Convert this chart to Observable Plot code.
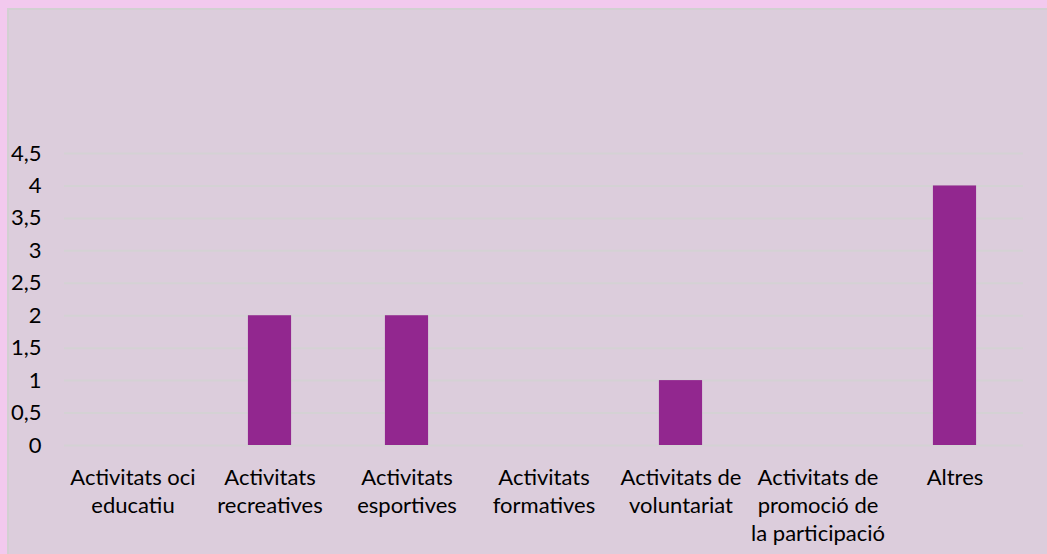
<!DOCTYPE html>
<html>
<head>
<meta charset="utf-8">
<script src="https://cdn.jsdelivr.net/npm/d3@7"></script>
<script src="https://cdn.jsdelivr.net/npm/@observablehq/plot@0.6"></script>
<style>
  html, body { margin: 0; padding: 0; }
  body { width: 1047px; height: 554px; background: #F2C9EE; position: relative; overflow: hidden; font-family: Lato, "Open Sans", sans-serif; }
  #panel { position: absolute; left: 7px; top: 8px; width: 1040px; height: 546px; background: #DCCDDC; border-left: 2px solid #D2D0D2; border-top: 2px solid #D2D0D2; box-sizing: border-box; }
  #chart { position: absolute; left: 0; top: 0; }
</style>
</head>
<body>
<div id="panel"></div>
<div id="chart"></div>
<script>
const categories = [
  "Activitats oci educatiu",
  "Activitats recreatives",
  "Activitats esportives",
  "Activitats formatives",
  "Activitats de voluntariat",
  "Activitats de promoció de la participació",
  "Altres"
];
const tickLabels = [
  "Activitats oci\neducatiu",
  "Activitats\nrecreatives",
  "Activitats\nesportives",
  "Activitats\nformatives",
  "Activitats de\nvoluntariat",
  "Activitats de\npromoció de\nla participació",
  "Altres"
];
const values = [0, 2, 2, 0, 1, 0, 4];
const yTicks = [0, 0.5, 1, 1.5, 2, 2.5, 3, 3.5, 4, 4.5];

const data = categories.map((c, i) => ({category: c, value: values[i]}));
const labelOf = new Map(categories.map((c, i) => [c, tickLabels[i]]));

const chart = Plot.plot({
  width: 1047,
  height: 554,
  marginLeft: 64,
  marginRight: 24,
  marginTop: 153,
  marginBottom: 109,
  style: { background: "transparent", fontFamily: "Lato, 'Open Sans', sans-serif", fontSize: "22px", color: "#000" },
  x: { domain: categories, paddingInner: 0.685, paddingOuter: 0.3425, round: false, label: null },
  y: { domain: [0, 4.5], label: null },
  marks: [
    Plot.gridY(yTicks, { stroke: "#D4D2D4", strokeOpacity: 1, strokeWidth: 2 }),
    Plot.barY(data, { x: "category", y: "value", fill: "#92278F" }),
    Plot.axisY(yTicks, {
      tickSize: 0, tickPadding: 23, fontSize: 22, fill: "#000",
      tickFormat: d => String(d).replace(".", ","), label: null
    }),
    Plot.axisX({
      tickSize: 0, tickPadding: 19, fontSize: 22, fill: "#000", lineHeight: 1.28,
      tickFormat: d => labelOf.get(d), label: null
    })
  ]
});
document.getElementById("chart").appendChild(chart);
</script>
</body>
</html>
